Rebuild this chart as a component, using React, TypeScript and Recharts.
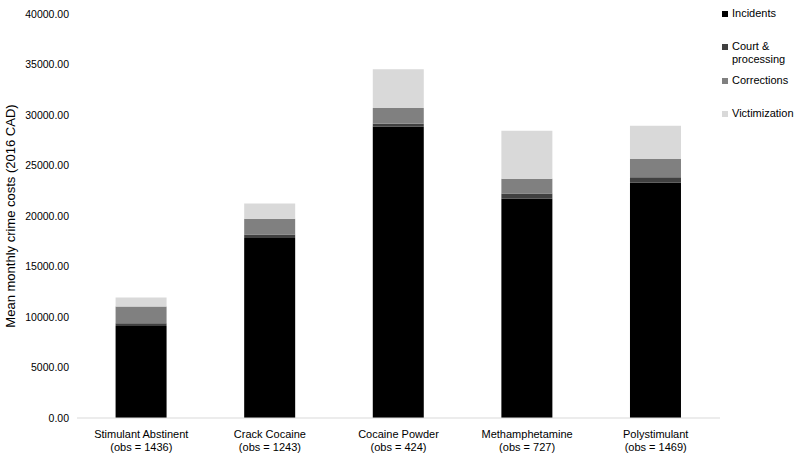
import { BarChart, Bar, XAxis, YAxis } from 'recharts'

const groups = ['Stimulant Abstinent', 'Crack Cocaine', 'Cocaine Powder', 'Methamphetamine', 'Polystimulant']
const obsLabels = ['(obs = 1436)', '(obs = 1243)', '(obs = 424)', '(obs = 727)', '(obs = 1469)']

const incidents = [9120, 17810, 28870, 21700, 23280]
const courtProcessing = [270, 360, 270, 520, 550]
const corrections = [1650, 1550, 1550, 1480, 1820]
const victimization = [890, 1510, 3850, 4740, 3290]

const yTicks = [0, 5000, 10000, 15000, 20000, 25000, 30000, 35000, 40000]

const seriesKeys = ['incidents', 'court', 'corrections', 'victimization']
const seriesNames = ['Incidents', 'Court &\nprocessing', 'Corrections', 'Victimization']
const seriesColors = ['#000000', '#404040', '#808080', '#d9d9d9']

const data = groups.map((g, i) => ({
  name: g,
  obs: obsLabels[i],
  incidents: incidents[i],
  court: courtProcessing[i],
  corrections: corrections[i],
  victimization: victimization[i],
}))

const FONT = '"Liberation Sans", Arial, sans-serif'

// two-line category label
const CategoryTick = ({ x, y, payload, index }: any) => (
  <text x={x} y={y} textAnchor="middle" fill="#000" fontSize={11} fontFamily={FONT}>
    <tspan x={x} dy={12}>{payload.value}</tspan>
    <tspan x={x} dy={13}>{obsLabels[index]}</tspan>
  </text>
)

// legend items sit at the spots Excel gave them
const legendTops = [5, 38, 72, 105]

const SideLegend = () => (
  <div style={{ position: 'absolute', left: 722, top: 2, width: 80, height: 130, fontFamily: FONT, fontSize: 11, color: '#000' }}>
    {seriesKeys.map((k, i) => (
      <div key={k} style={{ position: 'absolute', top: legendTops[i], left: 0, display: 'flex', alignItems: 'flex-start' }}>
        <span style={{ display: 'inline-block', width: 6, height: 6, background: seriesColors[i], marginTop: 4, marginRight: 4 }} />
        <span style={{ whiteSpace: 'pre', lineHeight: '13px' }}>{seriesNames[i]}</span>
      </div>
    ))}
  </div>
)

export default function App() {
  return (
    <div style={{ position: 'absolute', left: 0, top: 0, width: 800, height: 457, background: '#fff' }}>
      <BarChart
        width={800}
        height={457}
        data={data}
        margin={{ top: 14, right: 80, left: 0, bottom: 0 }}
        barCategoryGap="30%"
      >
        <XAxis
          dataKey="name"
          tick={<CategoryTick />}
          tickLine={false}
          axisLine={{ stroke: '#d9d9d9' }}
          interval={0}
          height={39}
        />
        <YAxis
          width={77}
          domain={[0, 40000]}
          ticks={yTicks}
          tickLine={false}
          axisLine={false}
          tickFormatter={(v: number) => v.toFixed(2)}
          tick={{ fill: '#000', fontSize: 10.5, fontFamily: FONT }}
          label={{
            value: 'Mean monthly crime costs (2016 CAD)',
            angle: -90,
            position: 'insideLeft',
            offset: 10,
            style: { textAnchor: 'middle', fontSize: 13, fontFamily: FONT, fill: '#000' },
          }}
        />
        {seriesKeys.map((k, i) => (
          <Bar
            key={k}
            dataKey={k}
            name={seriesNames[i]}
            stackId="a"
            fill={seriesColors[i]}
            isAnimationActive={false}
          />
        ))}
      </BarChart>
      <SideLegend />
    </div>
  )
}
